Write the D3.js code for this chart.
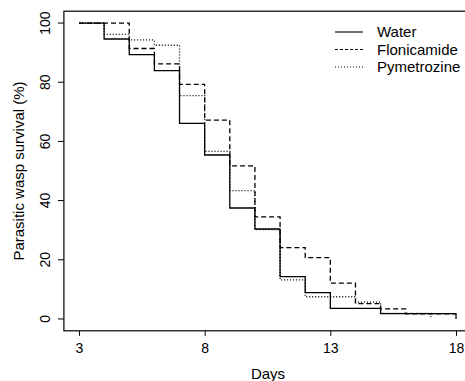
<!DOCTYPE html>
<html>
<head>
<meta charset="utf-8">
<script src="https://cdn.jsdelivr.net/npm/d3@7"></script>
<style>
  body { margin: 0; background: #fff; }
  text { font-family: "Liberation Sans", Arial, sans-serif; fill: #000; }
</style>
</head>
<body>
<svg id="chart"></svg>
<script>
// survival step data (day the step starts, % surviving)
const waterDays = [3, 4, 5, 6, 7, 8, 9, 10, 11, 12, 13, 15, 18];
const waterSurv = [100, 94.6, 89.3, 83.9, 66.1, 55.4, 37.5, 30.4, 14.3, 8.9, 3.6, 1.8, 0];

const floniDays = [3, 5, 6, 7, 8, 9, 10, 11, 12, 13, 14, 15, 16, 18];
const floniSurv = [100, 91.4, 86.2, 79.3, 67.2, 51.7, 34.5, 24.1, 20.7, 12.1, 5.2, 3.4, 1.7, 1.7];

const pymeDays = [3, 4, 5, 6, 7, 8, 9, 10, 11, 12, 14, 15, 17];
const pymeSurv = [100, 96.2, 94.3, 92.5, 75.5, 56.6, 43.4, 30.2, 13.2, 7.5, 5.7, 1.9, 0];

const seriesNames = ["Water", "Flonicamide", "Pymetrozine"];
const xTicks = [3, 8, 13, 18];
const yTicks = [0, 20, 40, 60, 80, 100];

const width = 465, height = 381;
const dashes = ["none", "5,3", "1,2"];

const svg = d3.select("#chart").attr("width", width).attr("height", height);

const x = d3.scaleLinear().domain([2.4, 18.6]).range([63.9, 471.1]);
const y = d3.scaleLinear().domain([-4, 104]).range([330.8, 11.2]);

const series = [
  waterDays.map((d, i) => [d, waterSurv[i]]),
  floniDays.map((d, i) => [d, floniSurv[i]]),
  pymeDays.map((d, i) => [d, pymeSurv[i]])
];

const line = d3.line()
  .x(d => x(d[0]))
  .y(d => y(d[1]))
  .curve(d3.curveStepAfter);

svg.selectAll(".km")
  .data(series)
  .enter()
  .append("path")
  .attr("class", "km")
  .attr("d", line)
  .attr("fill", "none")
  .attr("stroke", "#000")
  .attr("stroke-width", 1.3)
  .attr("stroke-dasharray", (d, i) => dashes[i]);

// box
svg.append("rect")
  .attr("x", x(2.4)).attr("y", y(104))
  .attr("width", x(18.6) - x(2.4)).attr("height", y(-4) - y(104))
  .attr("fill", "none").attr("stroke", "#000").attr("stroke-width", 1.2);

// x axis
const xAxis = svg.append("g")
  .attr("transform", `translate(0,${y(-4)})`)
  .call(d3.axisBottom(x).tickValues(xTicks).tickSize(5).tickPadding(7));
xAxis.select(".domain").remove();
xAxis.selectAll("text").attr("font-size", 14).attr("font-family", null);

// y axis
const yAxis = svg.append("g")
  .attr("transform", `translate(${x(2.4)},0)`)
  .call(d3.axisLeft(y).tickValues(yTicks).tickSize(6));
yAxis.select(".domain").remove();
yAxis.selectAll("text")
  .attr("font-size", 14).attr("font-family", null)
  .attr("transform", d => `translate(-19,${y(d)}) rotate(-90)`)
  .attr("x", 0).attr("y", 0).attr("dy", "0.35em")
  .style("text-anchor", "middle");
yAxis.selectAll(".tick").attr("transform", null);
yAxis.selectAll(".tick line").attr("y1", d => y(d)).attr("y2", d => y(d));

// axis titles
svg.append("text")
  .attr("x", 268).attr("y", 379)
  .attr("text-anchor", "middle").attr("font-size", 15)
  .text("Days");

svg.append("text")
  .attr("transform", `translate(24,171) rotate(-90)`)
  .attr("text-anchor", "middle").attr("font-size", 15)
  .text("Parasitic wasp survival (%)");

// legend
const legend = svg.append("g");
seriesNames.forEach((name, i) => {
  const ly = 32 + i * 17.5;
  legend.append("line")
    .attr("x1", 335).attr("x2", 363).attr("y1", ly).attr("y2", ly)
    .attr("stroke", "#000").attr("stroke-width", 1.1)
    .attr("stroke-dasharray", i === 1 ? "3,2" : dashes[i]);
  legend.append("text")
    .attr("x", 377).attr("y", ly).attr("dy", "0.35em")
    .attr("font-size", 15).text(name);
});
</script>
</body>
</html>
